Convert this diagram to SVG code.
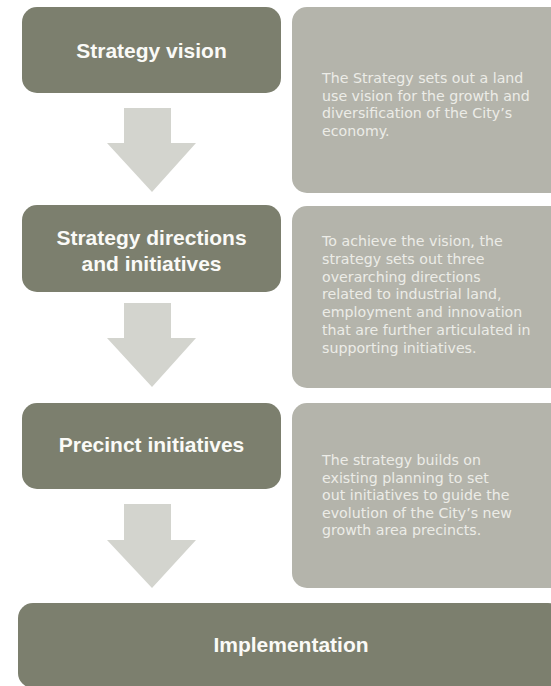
<svg xmlns="http://www.w3.org/2000/svg" width="551" height="686" viewBox="0 0 551 686">
<style>
.dark{fill:#7c7f6e}
.desc{fill:#b4b4ab}
.arrow{fill:#d3d4ce}
.h{font-family:"Liberation Sans",Arial,sans-serif;font-weight:bold;font-size:21px;fill:#fafaf7;text-anchor:middle}
.t{font-family:"DejaVu Sans",sans-serif;font-size:14.2px;fill:#ececE7}
</style>
<rect width="551" height="686" fill="#ffffff"/>
<g id="connectors">
<polygon class="arrow" points="124,108 171,108 171,143 196,143 152,192 107,143 124,143"/>
<polygon class="arrow" points="124,303 171,303 171,338 196,338 152,387 107,338 124,338"/>
<polygon class="arrow" points="124,504 171,504 171,540 196,540 152,588 107,540 124,540"/>
</g>
<g id="strategy-vision">
<rect class="dark" x="22" y="7" width="259" height="86" rx="15"/>
<text class="h" x="151.5" y="58">Strategy vision</text>
</g>
<g id="desc-vision">
<rect class="desc" x="292" y="7" width="275" height="186" rx="15"/>
<text class="t" x="322" y="83">The Strategy sets out a land</text>
<text class="t" x="322" y="100.7">use vision for the growth and</text>
<text class="t" x="322" y="118.4">diversification of the City’s</text>
<text class="t" x="322" y="136.1">economy.</text>
</g>
<g id="strategy-directions">
<rect class="dark" x="22" y="205" width="259" height="87" rx="15"/>
<text class="h" x="151.5" y="245">Strategy directions</text>
<text class="h" x="151.5" y="271">and initiatives</text>
</g>
<g id="desc-directions">
<rect class="desc" x="292" y="206" width="275" height="182" rx="15"/>
<text class="t" x="322" y="246">To achieve the vision, the</text>
<text class="t" x="322" y="263.8">strategy sets out three</text>
<text class="t" x="322" y="281.6">overarching directions</text>
<text class="t" x="322" y="299.4">related to industrial land,</text>
<text class="t" x="322" y="317.2">employment and innovation</text>
<text class="t" x="322" y="335">that are further articulated in</text>
<text class="t" x="322" y="352.8">supporting initiatives.</text>
</g>
<g id="precinct-initiatives">
<rect class="dark" x="22" y="403" width="259" height="86" rx="15"/>
<text class="h" x="151.5" y="452">Precinct initiatives</text>
</g>
<g id="desc-precinct">
<rect class="desc" x="292" y="403" width="275" height="185" rx="15"/>
<text class="t" x="322" y="465">The strategy builds on</text>
<text class="t" x="322" y="482.5">existing planning to set</text>
<text class="t" x="322" y="500">out initiatives to guide the</text>
<text class="t" x="322" y="517.5">evolution of the City’s new</text>
<text class="t" x="322" y="535">growth area precincts.</text>
</g>
<g id="implementation">
<rect class="dark" x="18" y="603" width="545" height="85" rx="15"/>
<text class="h" x="291" y="652">Implementation</text>
</g>
</svg>
